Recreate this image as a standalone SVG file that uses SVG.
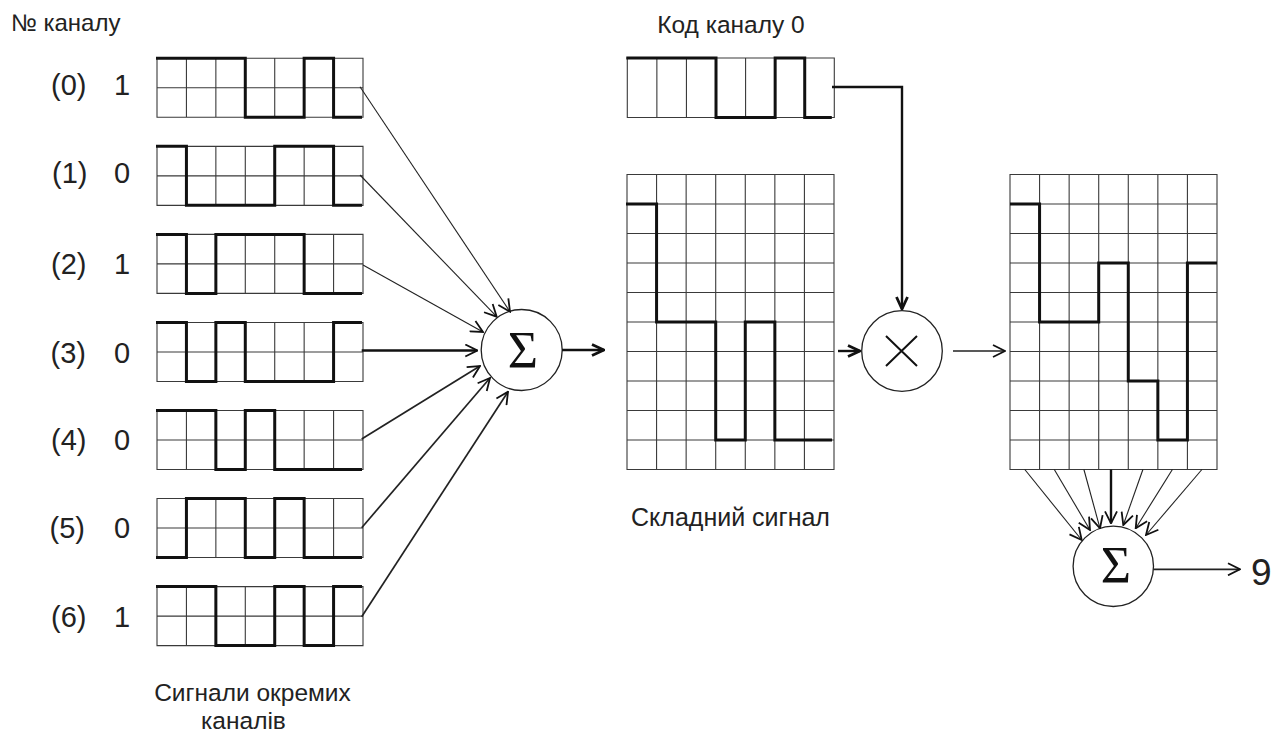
<svg xmlns="http://www.w3.org/2000/svg" xmlns:xlink="http://www.w3.org/1999/xlink" width="1284" height="733" viewBox="0 0 1284 733">
<style>
.grid{fill:none;stroke:#3a3a3a;stroke-width:1.1}
.wave{fill:none;stroke:#111;stroke-width:3;stroke-linejoin:miter}
.lbl{font-family:"Liberation Sans",Arial,sans-serif;fill:#222}
.sig{font-family:"Liberation Serif","Times New Roman",serif;fill:#111;font-size:52px;text-anchor:middle}
.op{fill:#fff;stroke:#222;stroke-width:1.3}
.thin{fill:none;stroke:#222;stroke-width:1.1}
.mid{fill:none;stroke:#222;stroke-width:1.7}
.thick{fill:none;stroke:#111;stroke-width:2.4}
</style>
<defs>
<marker id="ah" viewBox="0 0 14 14" refX="13" refY="7" markerUnits="userSpaceOnUse" markerWidth="14" markerHeight="14" orient="auto">
<path d="M1,1 L13,7 L1,13" fill="none" stroke="#111" stroke-width="1.8"/>
</marker>
<marker id="ahb" viewBox="0 0 14 14" refX="13" refY="7" markerUnits="userSpaceOnUse" markerWidth="14" markerHeight="14" orient="auto">
<path d="M1,1.5 L13,7 L1,12.5" fill="none" stroke="#111" stroke-width="2.8"/>
</marker>
<g id="g7x2">
<path class="grid" d="M0,0 H206 V59 H0 Z M29.43,0 V59 M58.86,0 V59 M88.29,0 V59 M117.72,0 V59 M147.15,0 V59 M176.58,0 V59 M0,29.5 H206"/>
</g>
<g id="g7x1">
<path class="grid" d="M0,0 H207 V59.5 H0 Z M29.57,0 V59.5 M59.14,0 V59.5 M88.71,0 V59.5 M118.28,0 V59.5 M147.85,0 V59.5 M177.42,0 V59.5"/>
</g>
<g id="g7x10">
<path class="grid" d="M0,0 H207 V295 H0 Z M29.57,0 V295 M59.14,0 V295 M88.71,0 V295 M118.28,0 V295 M147.85,0 V295 M177.42,0 V295 M0,29.5 H207 M0,59 H207 M0,88.5 H207 M0,118 H207 M0,147.5 H207 M0,177 H207 M0,206.5 H207 M0,236 H207 M0,265.5 H207"/>
</g>
</defs>
<rect width="1284" height="733" fill="#fff"/>

<text class="lbl" x="11" y="31" font-size="24">№ каналу</text>
<text class="lbl" x="731" y="32.5" font-size="24.5" text-anchor="middle">Код каналу 0</text>
<text class="lbl" x="730.5" y="526" font-size="25" text-anchor="middle">Складний сигнал</text>
<text class="lbl" x="252.5" y="701" font-size="24.5" text-anchor="middle">Сигнали окремих</text>
<text class="lbl" x="243.5" y="728.5" font-size="24.5" text-anchor="middle">каналів</text>

<g id="ch0" transform="translate(157,58.3)">
<text class="lbl" x="-106" y="36.7" font-size="29">(0)</text><text class="lbl" x="-43" y="36.7" font-size="29">1</text>
<use xlink:href="#g7x2"/>
<path class="wave" d="M-1,0 H88.29 V59 H147.15 V0 H176.58 V59 H205"/>
</g>
<g id="ch1" transform="translate(157,146.35)">
<text class="lbl" x="-105" y="37" font-size="29">(1)</text><text class="lbl" x="-43" y="37" font-size="29">0</text>
<use xlink:href="#g7x2"/>
<path class="wave" d="M-1,0 H29.43 V59 H117.72 V0 H176.58 V59 H205"/>
</g>
<g id="ch2" transform="translate(157,234.4)">
<text class="lbl" x="-106" y="39.5" font-size="29">(2)</text><text class="lbl" x="-43" y="39.5" font-size="29">1</text>
<use xlink:href="#g7x2"/>
<path class="wave" d="M-1,0 H29.43 V59 H58.86 V0 H147.15 V59 H205"/>
</g>
<g id="ch3" transform="translate(157,322.45)">
<text class="lbl" x="-106.5" y="40.8" font-size="29">(3)</text><text class="lbl" x="-43" y="40.8" font-size="29">0</text>
<use xlink:href="#g7x2"/>
<path class="wave" d="M-1,0 H29.43 V59 H58.86 V0 H88.29 V59 H176.58 V0 H205"/>
</g>
<g id="ch4" transform="translate(157,410.5)">
<text class="lbl" x="-106" y="39.5" font-size="29">(4)</text><text class="lbl" x="-43" y="39.5" font-size="29">0</text>
<use xlink:href="#g7x2"/>
<path class="wave" d="M-1,0 H58.86 V59 H88.29 V0 H117.72 V59 H205"/>
</g>
<g id="ch5" transform="translate(157,498.55)">
<text class="lbl" x="-107.5" y="39.8" font-size="29">(5)</text><text class="lbl" x="-43" y="39.8" font-size="29">0</text>
<use xlink:href="#g7x2"/>
<path class="wave" d="M-1,59 H29.43 V0 H88.29 V59 H117.72 V0 H147.15 V59 H205"/>
</g>
<g id="ch6" transform="translate(157,586.6)">
<text class="lbl" x="-106" y="40" font-size="29">(6)</text><text class="lbl" x="-43" y="40" font-size="29">1</text>
<use xlink:href="#g7x2"/>
<path class="wave" d="M-1,0 H58.86 V59 H117.72 V0 H147.15 V59 H176.58 V0 H205"/>
</g>

<g id="code0" transform="translate(627.3,58)">
<use xlink:href="#g7x1"/>
<path class="wave" d="M-1,0 H88.71 V59.5 H147.85 V0 H177.42 V59.5 H204.5"/>
</g>

<g id="composite" transform="translate(627,174.5)">
<use xlink:href="#g7x10"/>
<path class="wave" d="M-1,29.5 H29.57 V147.5 H88.71 V265.5 H118.28 V147.5 H147.85 V265.5 H205"/>
</g>

<g id="product" transform="translate(1010,174.5)">
<use xlink:href="#g7x10"/>
<path class="wave" d="M0,29.5 H29.57 V147.5 H88.71 V88.5 H118.28 V206.5 H147.85 V265.5 H177.42 V88.5 H207"/>
</g>

<g id="sum1">
<circle class="op" cx="521.7" cy="350" r="40.5"/>
<text class="sig" x="523" y="367.5">Σ</text>
</g>
<g id="mult">
<circle class="op" cx="902" cy="351" r="40.3"/>
<path d="M886,336 L917,366 M917,336 L886,366" fill="none" stroke="#111" stroke-width="2"/>
</g>
<g id="sum2">
<circle class="op" cx="1113.3" cy="566.3" r="40.2"/>
<text class="sig" x="1116" y="583">Σ</text>
</g>
<text id="result" class="lbl" x="1251" y="585" font-size="37">9</text>

<g id="connectors">
<path class="thin" marker-end="url(#ah)" d="M360,86.7 L510,311.7"/>
<path class="thin" marker-end="url(#ah)" d="M360,175 L496.7,316.7"/>
<path class="thin" marker-end="url(#ah)" d="M363,265 L483,332"/>
<path class="thick" marker-end="url(#ah)" d="M361.7,350.5 L477.3,350.5"/>
<path class="mid" marker-end="url(#ah)" d="M361.7,439 L480,366"/>
<path class="mid" marker-end="url(#ah)" d="M361.7,527.7 L490,378"/>
<path class="mid" marker-end="url(#ah)" d="M361.7,616.7 L508,391.7"/>
<path class="thick" marker-end="url(#ahb)" d="M562,350 L604,350"/>
<path class="thick" marker-end="url(#ahb)" d="M832,87 H902 V309"/>
<path class="thick" marker-end="url(#ahb)" d="M838,351 L860,351"/>
<path class="mid" marker-end="url(#ah)" d="M953,351 L1005,351"/>
<path class="thin" marker-end="url(#ah)" d="M1024.8,469.5 L1081.7,540"/>
<path class="thin" marker-end="url(#ah)" d="M1054.3,469.5 L1090,530"/>
<path class="thin" marker-end="url(#ah)" d="M1083.9,469.5 L1100,528.3"/>
<path class="thick" marker-end="url(#ah)" d="M1111,469.5 L1111,523.3"/>
<path class="thin" marker-end="url(#ah)" d="M1142.9,469.5 L1123.3,525"/>
<path class="thin" marker-end="url(#ah)" d="M1172.4,469.5 L1135.7,528.3"/>
<path class="thin" marker-end="url(#ah)" d="M1201.9,469.5 L1146,535"/>
<path class="mid" marker-end="url(#ah)" d="M1153.3,569.3 L1240,569.3"/>
</g>
</svg>
